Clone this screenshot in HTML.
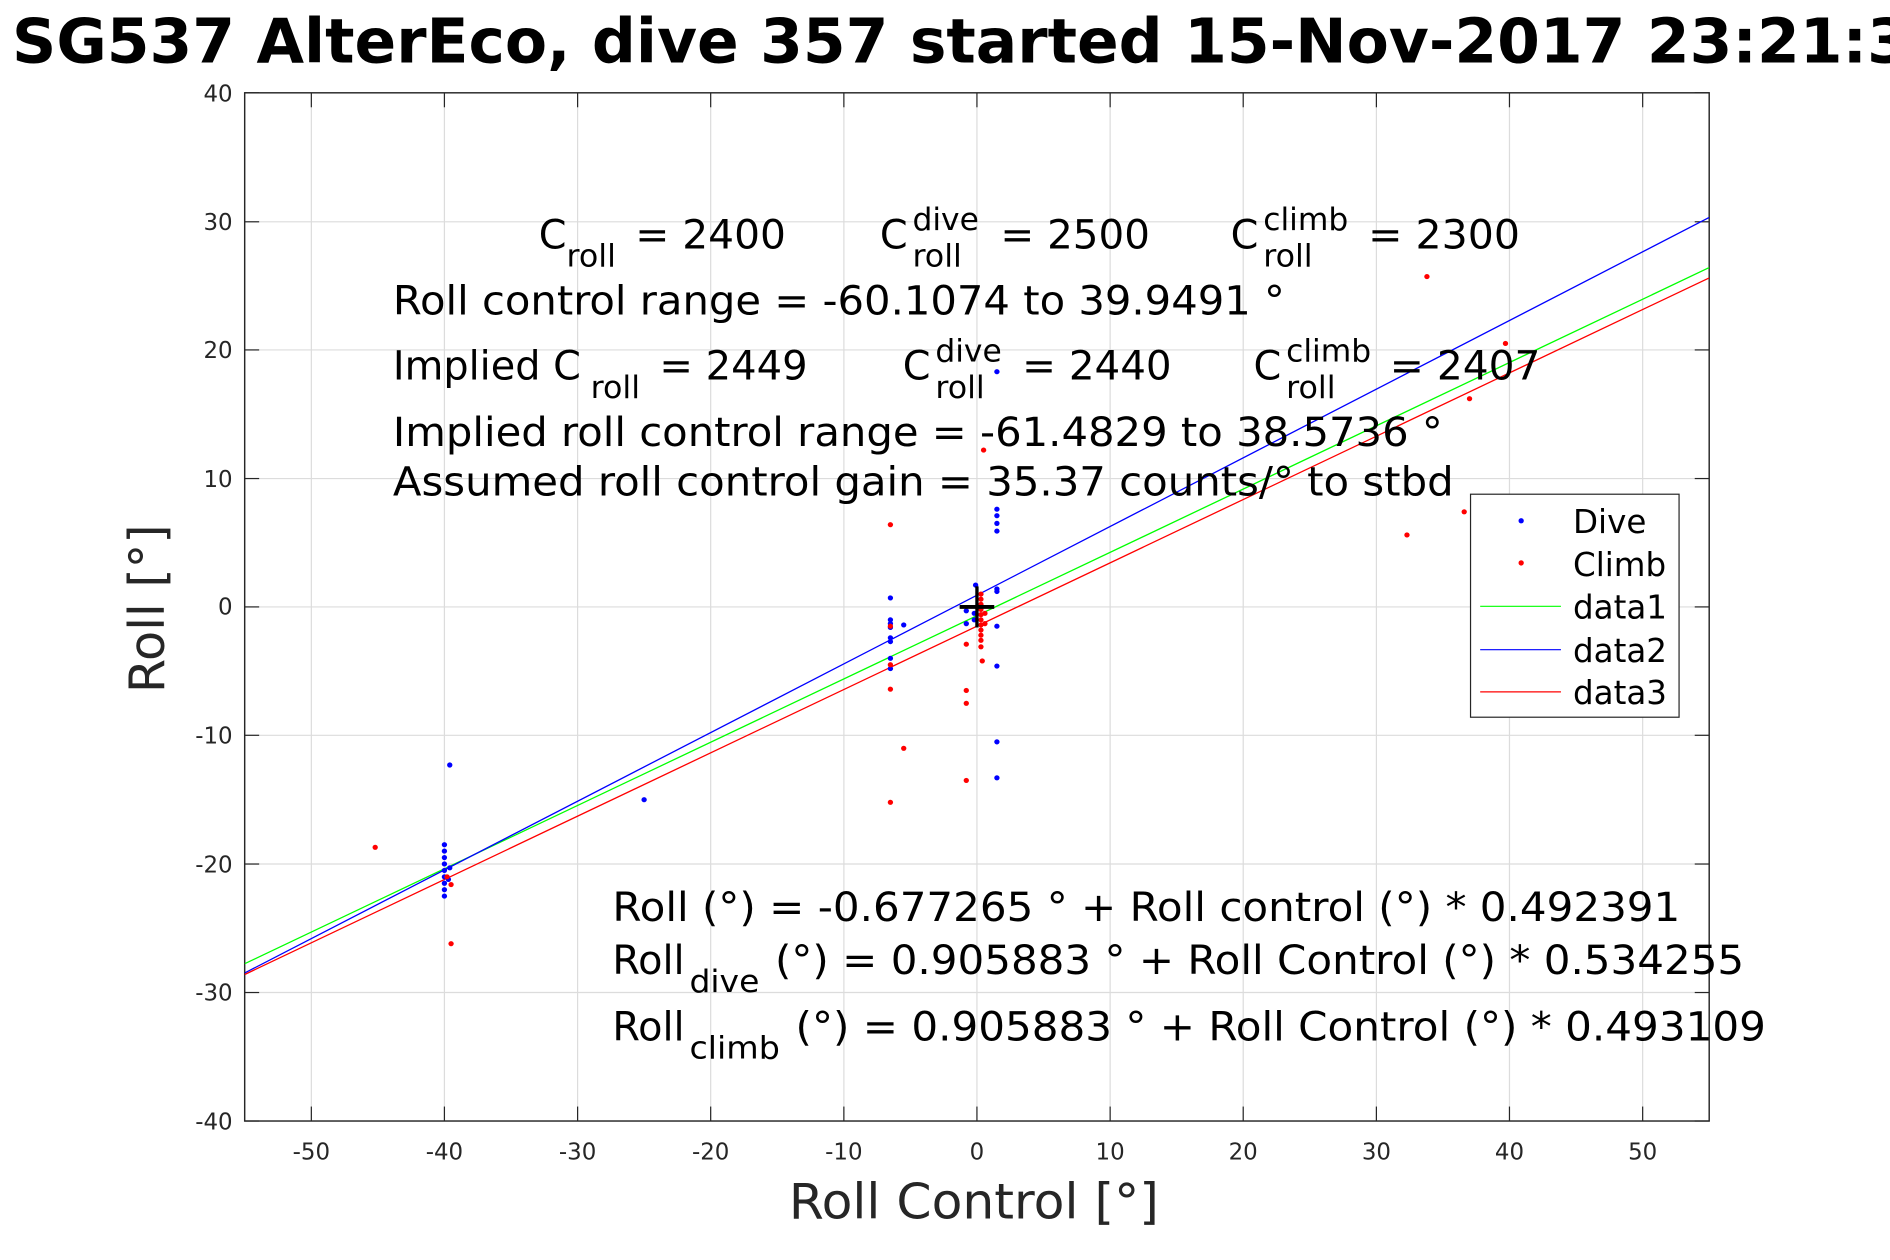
<!DOCTYPE html>
<html><head><meta charset="utf-8"><style>
html,body{margin:0;padding:0;background:#fff;}
svg{display:block;}
text{font-family:"DejaVu Sans","Liberation Sans",sans-serif;}
</style></head><body>
<svg width="1890" height="1260" viewBox="0 0 1568 1045.3" preserveAspectRatio="none" xmlns="http://www.w3.org/2000/svg">
<rect x="0" y="0" width="1568" height="1046" fill="#fff"/>
<text x="10" y="52" font-size="51" font-weight="bold" fill="#000">SG537 AlterEco, dive 357 started 15-Nov-2017 23:21:38</text>
<rect x="203" y="77" width="1215" height="853" fill="#fff"/>
<g stroke="#dcdcdc" stroke-width="1">
<line x1="258.3" y1="77" x2="258.3" y2="930"/><line x1="368.7" y1="77" x2="368.7" y2="930"/><line x1="479.2" y1="77" x2="479.2" y2="930"/><line x1="589.6" y1="77" x2="589.6" y2="930"/><line x1="700.1" y1="77" x2="700.1" y2="930"/><line x1="810.5" y1="77" x2="810.5" y2="930"/><line x1="921" y1="77" x2="921" y2="930"/><line x1="1031.4" y1="77" x2="1031.4" y2="930"/><line x1="1141.9" y1="77" x2="1141.9" y2="930"/><line x1="1252.3" y1="77" x2="1252.3" y2="930"/><line x1="1362.8" y1="77" x2="1362.8" y2="930"/>
<line x1="203" y1="184" x2="1418" y2="184"/><line x1="203" y1="290.3" x2="1418" y2="290.3"/><line x1="203" y1="397" x2="1418" y2="397"/><line x1="203" y1="503.5" x2="1418" y2="503.5"/><line x1="203" y1="610" x2="1418" y2="610"/><line x1="203" y1="716.8" x2="1418" y2="716.8"/><line x1="203" y1="823.4" x2="1418" y2="823.4"/>
</g>
<g stroke="#262626" stroke-width="1">
<line x1="258.3" y1="930" x2="258.3" y2="918"/><line x1="368.7" y1="930" x2="368.7" y2="918"/><line x1="479.2" y1="930" x2="479.2" y2="918"/><line x1="589.6" y1="930" x2="589.6" y2="918"/><line x1="700.1" y1="930" x2="700.1" y2="918"/><line x1="810.5" y1="930" x2="810.5" y2="918"/><line x1="921" y1="930" x2="921" y2="918"/><line x1="1031.4" y1="930" x2="1031.4" y2="918"/><line x1="1141.9" y1="930" x2="1141.9" y2="918"/><line x1="1252.3" y1="930" x2="1252.3" y2="918"/><line x1="1362.8" y1="930" x2="1362.8" y2="918"/>
<line x1="258.3" y1="77" x2="258.3" y2="89"/><line x1="368.7" y1="77" x2="368.7" y2="89"/><line x1="479.2" y1="77" x2="479.2" y2="89"/><line x1="589.6" y1="77" x2="589.6" y2="89"/><line x1="700.1" y1="77" x2="700.1" y2="89"/><line x1="810.5" y1="77" x2="810.5" y2="89"/><line x1="921" y1="77" x2="921" y2="89"/><line x1="1031.4" y1="77" x2="1031.4" y2="89"/><line x1="1141.9" y1="77" x2="1141.9" y2="89"/><line x1="1252.3" y1="77" x2="1252.3" y2="89"/><line x1="1362.8" y1="77" x2="1362.8" y2="89"/>
<line x1="203" y1="77" x2="215" y2="77"/><line x1="203" y1="184" x2="215" y2="184"/><line x1="203" y1="290.3" x2="215" y2="290.3"/><line x1="203" y1="397" x2="215" y2="397"/><line x1="203" y1="503.5" x2="215" y2="503.5"/><line x1="203" y1="610" x2="215" y2="610"/><line x1="203" y1="716.8" x2="215" y2="716.8"/><line x1="203" y1="823.4" x2="215" y2="823.4"/><line x1="203" y1="930" x2="215" y2="930"/>
<line x1="1406" y1="77" x2="1418" y2="77"/><line x1="1406" y1="184" x2="1418" y2="184"/><line x1="1406" y1="290.3" x2="1418" y2="290.3"/><line x1="1406" y1="397" x2="1418" y2="397"/><line x1="1406" y1="503.5" x2="1418" y2="503.5"/><line x1="1406" y1="610" x2="1418" y2="610"/><line x1="1406" y1="716.8" x2="1418" y2="716.8"/><line x1="1406" y1="823.4" x2="1418" y2="823.4"/><line x1="1406" y1="930" x2="1418" y2="930"/>
</g>
<rect x="203" y="77" width="1215" height="853" fill="none" stroke="#262626" stroke-width="1.2"/>
<g font-size="19" fill="#262626" text-anchor="middle">
<text x="258.3" y="962">-50</text><text x="368.7" y="962">-40</text><text x="479.2" y="962">-30</text><text x="589.6" y="962">-20</text><text x="700.1" y="962">-10</text><text x="810.5" y="962">0</text><text x="921" y="962">10</text><text x="1031.4" y="962">20</text><text x="1141.9" y="962">30</text><text x="1252.3" y="962">40</text><text x="1362.8" y="962">50</text>
</g>
<g font-size="19" fill="#262626" text-anchor="end">
<text x="193" y="84">40</text><text x="193" y="191">30</text><text x="193" y="297">20</text><text x="193" y="404">10</text><text x="193" y="510">0</text><text x="193" y="617">-10</text><text x="193" y="724">-20</text><text x="193" y="830">-30</text><text x="193" y="937">-40</text>
</g>
<text x="808" y="1011" font-size="41" fill="#262626" text-anchor="middle" textLength="307" lengthAdjust="spacingAndGlyphs">Roll Control [°]</text>
<text transform="translate(136,505) rotate(-90)" font-size="41" fill="#262626" text-anchor="middle">Roll [°]</text>
<svg x="203" y="77" width="1215" height="853" viewBox="203 77 1215 853" overflow="hidden">
<g transform="translate(810.5,503.5) scale(11.045,-10.6625)">
<line x1="-55" y1="-27.76" x2="55" y2="26.4" stroke="#00ff00" stroke-width="0.1"/>
<line x1="-55" y1="-28.48" x2="55" y2="30.3" stroke="#0000ff" stroke-width="0.1"/>
<line x1="-55" y1="-28.6" x2="55" y2="25.6" stroke="#ff0000" stroke-width="0.1"/>
<g fill="#0000ff">
<circle cx="-40" cy="-18.5" r="0.2"/><circle cx="-40" cy="-19" r="0.2"/><circle cx="-40" cy="-19.5" r="0.2"/><circle cx="-40" cy="-20" r="0.2"/><circle cx="-40" cy="-20.5" r="0.2"/><circle cx="-40" cy="-21" r="0.2"/><circle cx="-40" cy="-21.5" r="0.2"/><circle cx="-40" cy="-22" r="0.2"/><circle cx="-40" cy="-22.5" r="0.2"/><circle cx="-39.6" cy="-20.3" r="0.2"/><circle cx="-39.7" cy="-21.2" r="0.2"/>
<circle cx="-39.6" cy="-12.3" r="0.2"/><circle cx="-25" cy="-15" r="0.2"/>
<circle cx="-6.5" cy="0.7" r="0.2"/><circle cx="-6.5" cy="-1" r="0.2"/><circle cx="-6.5" cy="-1.3" r="0.2"/><circle cx="-6.5" cy="-1.6" r="0.2"/><circle cx="-6.5" cy="-2.4" r="0.2"/><circle cx="-6.5" cy="-2.7" r="0.2"/><circle cx="-6.5" cy="-4" r="0.2"/><circle cx="-6.5" cy="-4.8" r="0.2"/><circle cx="-5.5" cy="-1.4" r="0.2"/>
<circle cx="-0.1" cy="1.7" r="0.2"/><circle cx="-0.8" cy="-0.3" r="0.2"/><circle cx="-0.8" cy="-1.3" r="0.2"/><circle cx="-0.2" cy="-0.5" r="0.2"/><circle cx="-0.2" cy="-1" r="0.2"/>
<circle cx="1.5" cy="18.3" r="0.2"/><circle cx="1.5" cy="7.6" r="0.2"/><circle cx="1.5" cy="7.1" r="0.2"/><circle cx="1.5" cy="6.5" r="0.2"/><circle cx="1.5" cy="5.9" r="0.2"/><circle cx="1.5" cy="1.4" r="0.2"/><circle cx="1.5" cy="1.2" r="0.2"/><circle cx="1.5" cy="-1.5" r="0.2"/><circle cx="1.5" cy="-4.6" r="0.2"/><circle cx="1.5" cy="-10.5" r="0.2"/><circle cx="1.5" cy="-13.3" r="0.2"/>
</g>
<g fill="#ff0000">
<circle cx="-45.2" cy="-18.7" r="0.2"/><circle cx="-39.5" cy="-26.2" r="0.2"/><circle cx="-39.8" cy="-21" r="0.2"/><circle cx="-39.5" cy="-21.6" r="0.2"/>
<circle cx="-6.5" cy="6.4" r="0.2"/><circle cx="-6.5" cy="-1.5" r="0.2"/><circle cx="-6.5" cy="-4.5" r="0.2"/><circle cx="-6.5" cy="-6.4" r="0.2"/><circle cx="-6.5" cy="-15.2" r="0.2"/><circle cx="-5.5" cy="-11" r="0.2"/>
<circle cx="-0.8" cy="-2.9" r="0.2"/><circle cx="-0.8" cy="-6.5" r="0.2"/><circle cx="-0.8" cy="-7.5" r="0.2"/><circle cx="-0.8" cy="-13.5" r="0.2"/>
<circle cx="0.3" cy="1" r="0.2"/><circle cx="0.3" cy="0.6" r="0.2"/><circle cx="0.3" cy="0.2" r="0.2"/><circle cx="0.3" cy="-0.2" r="0.2"/><circle cx="0.3" cy="-0.6" r="0.2"/><circle cx="0.3" cy="-1" r="0.2"/><circle cx="0.3" cy="-1.4" r="0.2"/><circle cx="0.3" cy="-1.8" r="0.2"/><circle cx="0.3" cy="-2.2" r="0.2"/><circle cx="0.3" cy="-2.6" r="0.2"/><circle cx="0.3" cy="-3.1" r="0.2"/><circle cx="0.6" cy="-0.5" r="0.2"/><circle cx="0.6" cy="-1.3" r="0.2"/><circle cx="0.4" cy="-4.2" r="0.2"/><circle cx="0.5" cy="12.2" r="0.2"/>
<circle cx="33.8" cy="25.7" r="0.2"/><circle cx="39.7" cy="20.5" r="0.2"/><circle cx="37" cy="16.2" r="0.2"/><circle cx="32.3" cy="5.6" r="0.2"/><circle cx="36.6" cy="7.4" r="0.2"/>
</g>
<line x1="-1.3" y1="0" x2="1.3" y2="0" stroke="#000" stroke-width="0.3"/>
<line x1="0" y1="-1.6" x2="0" y2="1.6" stroke="#000" stroke-width="0.25"/>
</g>
</svg>
<g font-size="33" fill="#000">
<text x="447" y="206">C</text><text x="470" y="221" font-size="26" textLength="41" lengthAdjust="spacingAndGlyphs">roll</text><text x="527" y="206" textLength="125" lengthAdjust="spacingAndGlyphs">= 2400</text>
<text x="730" y="206">C</text><text x="757" y="191" font-size="26">dive</text><text x="757" y="221" font-size="26" textLength="41" lengthAdjust="spacingAndGlyphs">roll</text><text x="830" y="206" textLength="124" lengthAdjust="spacingAndGlyphs">= 2500</text>
<text x="1021" y="206">C</text><text x="1048" y="191" font-size="26">climb</text><text x="1048" y="221" font-size="26" textLength="41" lengthAdjust="spacingAndGlyphs">roll</text><text x="1135" y="206" textLength="126" lengthAdjust="spacingAndGlyphs">= 2300</text>
<text x="326" y="261" textLength="740" lengthAdjust="spacingAndGlyphs">Roll control range = -60.1074 to 39.9491 °</text>
<text x="326" y="315">Implied C</text><text x="490" y="330" font-size="26" textLength="41" lengthAdjust="spacingAndGlyphs">roll</text><text x="547" y="315" textLength="123" lengthAdjust="spacingAndGlyphs">= 2449</text>
<text x="749" y="315">C</text><text x="776" y="300" font-size="26">dive</text><text x="776" y="330" font-size="26" textLength="41" lengthAdjust="spacingAndGlyphs">roll</text><text x="848" y="315" textLength="124" lengthAdjust="spacingAndGlyphs">= 2440</text>
<text x="1040" y="315">C</text><text x="1067" y="300" font-size="26">climb</text><text x="1067" y="330" font-size="26" textLength="41" lengthAdjust="spacingAndGlyphs">roll</text><text x="1153" y="315" textLength="125" lengthAdjust="spacingAndGlyphs">= 2407</text>
<text x="326" y="370" textLength="871" lengthAdjust="spacingAndGlyphs">Implied roll control range = -61.4829 to 38.5736 °</text>
<text x="326" y="411" textLength="880" lengthAdjust="spacingAndGlyphs">Assumed roll control gain = 35.37 counts/° to stbd</text>
<text x="508" y="764" textLength="886" lengthAdjust="spacingAndGlyphs">Roll (°) = -0.677265 ° + Roll control (°) * 0.492391</text>
<text x="508" y="808">Roll</text><text x="572" y="823" font-size="26" textLength="58" lengthAdjust="spacingAndGlyphs">dive</text><text x="643" y="808" textLength="804" lengthAdjust="spacingAndGlyphs">(°) = 0.905883 ° + Roll Control (°) * 0.534255</text>
<text x="508" y="863">Roll</text><text x="572" y="878" font-size="26" textLength="75" lengthAdjust="spacingAndGlyphs">climb</text><text x="660" y="863" textLength="805" lengthAdjust="spacingAndGlyphs">(°) = 0.905883 ° + Roll Control (°) * 0.493109</text>
</g>
<rect x="1220" y="410" width="173" height="185" fill="#fff" stroke="#262626" stroke-width="1"/>
<circle cx="1262" cy="432" r="2.2" fill="#0000ff"/>
<circle cx="1262" cy="467" r="2.2" fill="#ff0000"/>
<line x1="1228" y1="503" x2="1295" y2="503" stroke="#00ff00" stroke-width="1"/>
<line x1="1228" y1="539" x2="1295" y2="539" stroke="#0000ff" stroke-width="1"/>
<line x1="1228" y1="574" x2="1295" y2="574" stroke="#ff0000" stroke-width="1"/>
<g font-size="27" fill="#000">
<text x="1305" y="442">Dive</text><text x="1305" y="478">Climb</text><text x="1305" y="513">data1</text><text x="1305" y="549">data2</text><text x="1305" y="584">data3</text>
</g>
</svg>
</body></html>
